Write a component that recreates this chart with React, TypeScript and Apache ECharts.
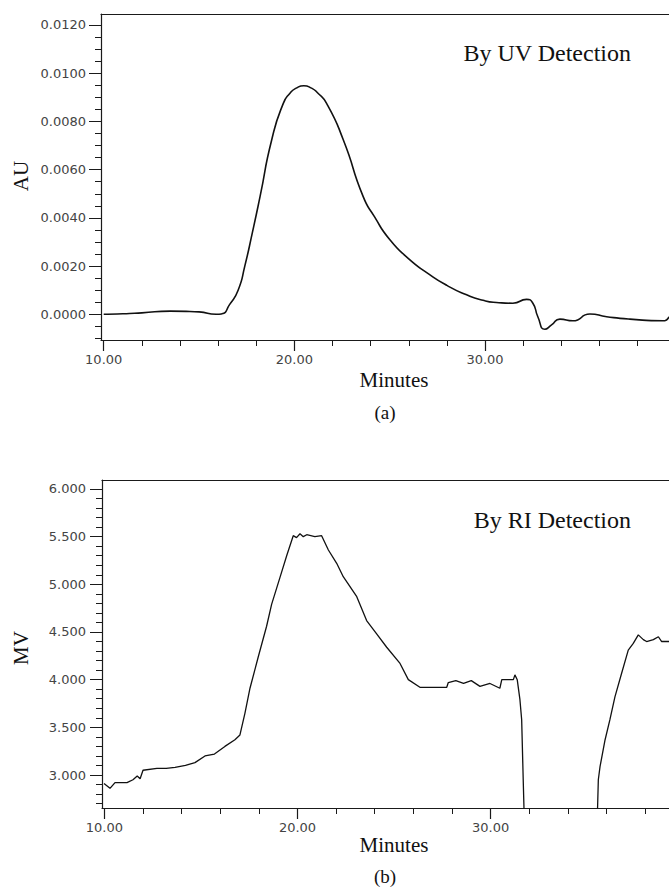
import React, { useEffect, useRef } from "react";
import * as echarts from "echarts";

// ---- Data ----
// (a) UV detection: time (min), absorbance (AU)
const uvTime = [10.0, 11.0, 12.0, 13.5, 15.0, 15.9, 16.2, 16.6, 17.05, 17.4, 17.8, 18.2, 18.81, 19.42, 19.77, 20.1, 20.5, 20.9, 21.2, 21.69, 22.57, 23.61, 24.2, 25.0, 26.0, 27.0, 28.0, 29.0, 29.9, 30.6, 31.46, 32.18, 32.51, 32.77, 33.14, 33.49, 33.93, 34.61, 35.5, 36.38, 37.6, 39.33, 39.65];
const uvValue = [0.0, 0.00002, 0.00006, 0.00013, 0.0001, 0.0, 0.00002, 0.0004, 0.001, 0.002, 0.0034, 0.00488, 0.00723, 0.00875, 0.00917, 0.00938, 0.00948, 0.00938, 0.0092, 0.00875, 0.00723, 0.00488, 0.00405, 0.0031, 0.0023, 0.0017, 0.0012, 0.00082, 0.00058, 0.00049, 0.00046, 0.00062, 0.00046, -0.0001, -0.00062, -0.00044, -0.0002, -0.00027, 0.00001, -0.0001, -0.0002, -0.00027, -0.0001];

// (b) RI detection: time (min), signal (MV)
const riTime = [9.98, 10.29, 10.55, 11.17, 11.48, 11.7, 11.85, 12.0, 12.72, 13.2, 13.66, 14.2, 14.69, 15.21, 15.7, 16.24, 16.76, 17.02, 17.28, 17.54, 17.97, 18.4, 18.66, 19.09, 19.44, 19.78, 19.95, 20.13, 20.3, 20.48, 20.9, 21.25, 21.6, 22.03, 22.37, 23.07, 23.58, 24.1, 24.62, 25.31, 25.74, 26.34, 27.0, 27.73, 27.81, 28.2, 28.6, 29.0, 29.45, 29.97, 30.48, 30.58, 31.18, 31.26, 31.38, 31.52, 31.61, 31.69, 31.75, 35.52, 35.58, 35.67, 35.93, 36.18, 36.44, 36.79, 37.13, 37.39, 37.65, 37.91, 38.08, 38.43, 38.69, 38.86, 39.24];
const riValue = [2.91, 2.86, 2.92, 2.92, 2.95, 2.99, 2.96, 3.05, 3.07, 3.07, 3.08, 3.1, 3.13, 3.2, 3.22, 3.3, 3.37, 3.42, 3.65, 3.91, 4.24, 4.56, 4.79, 5.07, 5.3, 5.51, 5.49, 5.53, 5.5, 5.52, 5.5, 5.51, 5.36, 5.22, 5.08, 4.87, 4.62, 4.48, 4.34, 4.17, 4.0, 3.92, 3.92, 3.92, 3.97, 3.99, 3.96, 3.99, 3.93, 3.96, 3.91, 4.0, 4.0, 4.05, 4.0, 3.79, 3.58, 2.95, 2.5, 2.5, 2.95, 3.09, 3.37, 3.58, 3.82, 4.07, 4.31, 4.38, 4.47, 4.42, 4.4, 4.42, 4.45, 4.4, 4.4];

// ---- Tick labels ----
const xMajorTicks = [10, 20, 30];
const xMinorTicksA = [10, 12, 14, 16, 18, 20, 22, 24, 26, 28, 30, 32, 34, 36, 38];
const xMinorTicksB = [10, 12, 14, 16, 18, 20, 22, 24, 26, 28, 30, 32, 34, 36, 38];
const uvMajorTicks = [0.0, 0.002, 0.004, 0.006, 0.008, 0.01, 0.012];
const uvMinorTicks = [-0.001, -0.0005, 0.0, 0.0005, 0.001, 0.0015, 0.002, 0.0025, 0.003, 0.0035, 0.004, 0.0045, 0.005, 0.0055, 0.006, 0.0065, 0.007, 0.0075, 0.008, 0.0085, 0.009, 0.0095, 0.01, 0.0105, 0.011, 0.0115, 0.012];
const riMajorTicks = [3.0, 3.5, 4.0, 4.5, 5.0, 5.5, 6.0];
const riMinorTicks = [2.7, 2.8, 2.9, 3.0, 3.1, 3.2, 3.3, 3.4, 3.5, 3.6, 3.7, 3.8, 3.9, 4.0, 4.1, 4.2, 4.3, 4.4, 4.5, 4.6, 4.7, 4.8, 4.9, 5.0, 5.1, 5.2, 5.3, 5.4, 5.5, 5.6, 5.7, 5.8, 5.9, 6.0];

const AX = "#1a1a1a";
const LBL = "#444444";
const SERIF = "'Liberation Serif', 'DejaVu Serif', serif";
const SANS = "'DejaVu Sans', sans-serif";

export default function App() {
  const ref = useRef<HTMLDivElement>(null);

  useEffect(() => {
    if (!ref.current) return;
    const chart = echarts.init(ref.current, null, { renderer: "svg" });

    const xRangeA = { min: 9.858, max: 39.65 };
    const xRangeB = { min: 9.876, max: 39.24 };
    const yRangeA = { min: -0.001066, max: 0.012456 };
    const yRangeB = { min: 2.654, max: 6.094 };

    const majorX = (grid: number, range: any) => ({
      type: "value",
      gridIndex: grid,
      position: "bottom",
      ...range,
      axisLine: { show: true, onZero: false, lineStyle: { color: AX, width: 1.2 } },
      axisTick: { show: true, customValues: xMajorTicks, length: 11, lineStyle: { color: AX, width: 1.2 } },
      axisLabel: {
        show: true,
        customValues: xMajorTicks,
        formatter: (v: number) => v.toFixed(2),
        margin: 13,
        color: LBL,
        fontFamily: SANS,
        fontSize: 13,
      },
      splitLine: { show: false },
    });
    const minorX = (grid: number, range: any, ticks: number[]) => ({
      type: "value",
      gridIndex: grid,
      position: "bottom",
      ...range,
      axisLine: { show: false, onZero: false },
      axisTick: { show: true, customValues: ticks, length: 6, lineStyle: { color: AX, width: 1 } },
      axisLabel: { show: false },
      splitLine: { show: false },
    });
    const topX = (grid: number, range: any) => ({
      type: "value",
      gridIndex: grid,
      position: "top",
      ...range,
      axisLine: { show: true, onZero: false, lineStyle: { color: AX, width: 1.2 } },
      axisTick: { show: false },
      axisLabel: { show: false },
      splitLine: { show: false },
    });
    const majorY = (grid: number, range: any, ticks: number[], digits: number, margin: number) => ({
      type: "value",
      gridIndex: grid,
      position: "left",
      ...range,
      axisLine: { show: true, onZero: false, lineStyle: { color: AX, width: 1.2 } },
      axisTick: { show: true, customValues: ticks, length: 12, lineStyle: { color: AX, width: 1 } },
      axisLabel: {
        show: true,
        customValues: ticks,
        formatter: (v: number) => v.toFixed(digits),
        margin,
        color: LBL,
        fontFamily: SANS,
        fontSize: 13,
      },
      splitLine: { show: false },
    });
    const minorY = (grid: number, range: any, ticks: number[]) => ({
      type: "value",
      gridIndex: grid,
      position: "left",
      ...range,
      axisLine: { show: false, onZero: false },
      axisTick: { show: true, customValues: ticks, length: 6, lineStyle: { color: AX, width: 1 } },
      axisLabel: { show: false },
      splitLine: { show: false },
    });

    const uvData = uvTime.map((t, i) => [t, uvValue[i]]);
    const riData = riTime.map((t, i) => [t, riValue[i]]);

    const text = (x: number, y: number, s: string, size: number, align = "center", rotation = 0) => ({
      type: "text",
      x,
      y,
      rotation,
      style: {
        text: s,
        fill: "#111",
        font: `${size}px ${SERIF}`,
        textAlign: align,
        textVerticalAlign: "middle",
      },
    });

    chart.setOption({
      animation: false,
      backgroundColor: "#ffffff",
      grid: [
        { left: 101, top: 14, width: 568, height: 326 },
        { left: 102, top: 480, width: 567, height: 328 },
      ],
      xAxis: [
        majorX(0, xRangeA),
        minorX(0, xRangeA, xMinorTicksA),
        topX(0, xRangeA),
        majorX(1, xRangeB),
        minorX(1, xRangeB, xMinorTicksB),
        topX(1, xRangeB),
      ],
      yAxis: [
        majorY(0, yRangeA, uvMajorTicks, 4, 15),
        minorY(0, yRangeA, uvMinorTicks),
        majorY(1, yRangeB, riMajorTicks, 3, 16),
        minorY(1, yRangeB, riMinorTicks),
      ],
      series: [
        {
          type: "line",
          xAxisIndex: 0,
          yAxisIndex: 0,
          data: uvData,
          smooth: 0.6,
          symbol: "none",
          clip: true,
          lineStyle: { color: "#111", width: 1.6 },
        },
        {
          type: "line",
          xAxisIndex: 3,
          yAxisIndex: 2,
          data: riData,
          smooth: false,
          symbol: "none",
          clip: true,
          lineStyle: { color: "#111", width: 1.3 },
        },
      ],
      graphic: [
        text(631, 53, "By UV Detection", 24, "right"),
        text(631, 520, "By RI Detection", 24, "right"),
        text(21, 176, "AU", 21, "center", Math.PI / 2),
        text(21, 648, "MV", 21, "center", Math.PI / 2),
        text(394, 380, "Minutes", 21),
        text(394, 845, "Minutes", 21),
        text(385, 412, "(a)", 19),
        text(385, 876, "(b)", 19),
      ],
    });

    return () => chart.dispose();
  }, []);

  return (
    <div
      ref={ref}
      style={{ position: "absolute", left: 0, top: 0, width: 669, height: 888, background: "#fff" }}
    />
  );
}
